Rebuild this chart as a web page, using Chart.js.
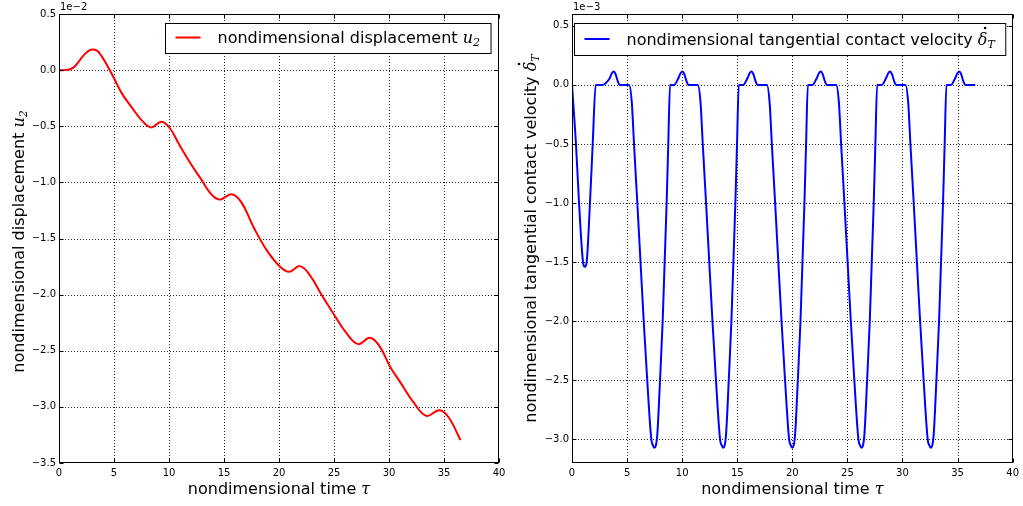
<!DOCTYPE html>
<html><head><meta charset="utf-8">
<script src="https://cdn.jsdelivr.net/npm/chart.js@4/dist/chart.umd.min.js"></script>
<style>
html,body{margin:0;padding:0;background:#fff;}
#wrap{position:relative;width:1023px;height:506px;background:#fff;}
canvas{position:absolute;top:0;}
</style></head><body>
<div id="wrap">
<canvas id="c1" width="512" height="506" style="left:0"></canvas>
<canvas id="c2" width="511" height="506" style="left:512px"></canvas>
</div>
<script>
// ---------- data ----------
const xTickValues = [0, 5, 10, 15, 20, 25, 30, 35, 40];
const u2TickValues = [-3.5, -3.0, -2.5, -2.0, -1.5, -1.0, -0.5, 0.0, 0.5];
const vTickValues = [-3.0, -2.5, -2.0, -1.5, -1.0, -0.5, 0.0, 0.5];

// displacement u2 (units of 1e-2)
const timeU2 = [0, 0.5, 1.0, 1.4, 1.9, 2.36, 2.8, 3.12, 3.5, 3.9, 4.33, 4.97, 5.7, 6.6, 7.5, 8.36, 9.33, 10.1, 10.85, 11.76, 12.97, 13.88, 14.64, 15.7, 16.6, 17.67, 18.88, 20.1, 20.94, 21.9, 22.8, 23.88, 24.94, 26.15, 27.2, 28.27, 29.18, 30.1, 31.0, 32.2, 33.4, 34.57, 35.4, 36.5];
const u2 = [0, 0.0, 0.008, 0.03, 0.09, 0.145, 0.178, 0.184, 0.17, 0.12, 0.05, -0.065, -0.205, -0.33, -0.445, -0.51, -0.46, -0.52, -0.65, -0.80, -0.98, -1.11, -1.152, -1.105, -1.18, -1.396, -1.604, -1.752, -1.797, -1.746, -1.826, -2.004, -2.168, -2.346, -2.441, -2.385, -2.465, -2.643, -2.777, -2.955, -3.08, -3.03, -3.09, -3.296];

// tangential contact velocity (units of 1e-3)
const timeV = [
  0, 0.36, 0.64, 1.0, 1.16, 1.33, 1.63, 1.88, 2.15,
  2.72, 3.38, 3.63, 3.78, 3.96, 4.16, 4.33, 5.18,
  5.43, 5.63, 5.93, 6.22, 6.51, 6.83, 7.2, 7.35, 7.48, 7.62, 7.75, 7.99, 8.23, 8.41, 8.59, 8.74, 8.9,
  9.27, 9.62, 9.87, 10.02, 10.2, 10.4, 10.57, 11.42,
  11.67, 11.87, 12.17, 12.46, 12.75, 13.07, 13.44, 13.59, 13.72, 13.86, 13.99, 14.23, 14.47, 14.65, 14.83, 14.98, 15.14,
  15.54, 15.89, 16.14, 16.29, 16.47, 16.67, 16.84, 17.69,
  17.94, 18.14, 18.44, 18.73, 19.02, 19.34, 19.71, 19.86, 19.99, 20.13, 20.26, 20.5, 20.74, 20.92, 21.1, 21.25, 21.41,
  21.83, 22.18, 22.43, 22.58, 22.76, 22.96, 23.13, 23.98,
  24.23, 24.43, 24.73, 25.02, 25.31, 25.63, 26.0, 26.15, 26.28, 26.42, 26.55, 26.79, 27.03, 27.21, 27.39, 27.54, 27.7,
  28.12, 28.47, 28.72, 28.87, 29.05, 29.25, 29.42, 30.27,
  30.52, 30.72, 31.02, 31.31, 31.6, 31.92, 32.29, 32.44, 32.57, 32.71, 32.84, 33.08, 33.32, 33.5, 33.68, 33.83, 33.99,
  34.4, 34.75, 35.0, 35.15, 35.33, 35.53, 35.7, 36.6
];
const velocity = [
  0, -0.5, -1.0, -1.5, -1.54, -1.5, -1.0, -0.5, 0,
  0, 0.05, 0.1, 0.113, 0.09, 0.03, 0, 0,
  -0.15, -0.5, -1.0, -1.5, -2.0, -2.5, -3.0, -3.05, -3.07, -3.05, -2.95, -2.5, -2.0, -1.5, -1.0, -0.5, 0,
  0, 0.05, 0.1, 0.113, 0.09, 0.03, 0, 0,
  -0.15, -0.5, -1.0, -1.5, -2.0, -2.5, -3.0, -3.05, -3.07, -3.05, -2.95, -2.5, -2.0, -1.5, -1.0, -0.5, 0,
  0, 0.05, 0.1, 0.113, 0.09, 0.03, 0, 0,
  -0.15, -0.5, -1.0, -1.5, -2.0, -2.5, -3.0, -3.05, -3.07, -3.05, -2.95, -2.5, -2.0, -1.5, -1.0, -0.5, 0,
  0, 0.05, 0.1, 0.113, 0.09, 0.03, 0, 0,
  -0.15, -0.5, -1.0, -1.5, -2.0, -2.5, -3.0, -3.05, -3.07, -3.05, -2.95, -2.5, -2.0, -1.5, -1.0, -0.5, 0,
  0, 0.05, 0.1, 0.113, 0.09, 0.03, 0, 0,
  -0.15, -0.5, -1.0, -1.5, -2.0, -2.5, -3.0, -3.05, -3.07, -3.05, -2.95, -2.5, -2.0, -1.5, -1.0, -0.5, 0,
  0, 0.05, 0.1, 0.113, 0.09, 0.03, 0, 0
];

// ---------- helpers ----------
const SANS = '"DejaVu Sans", sans-serif';
const SERIF_I = 'italic 16px "DejaVu Serif", serif';
const SERIF_I_SUB = 'italic 11px "DejaVu Serif", serif';
const fmt1 = v => (v < 0 ? '\u2212' : '') + Math.abs(v).toFixed(1);

function richWidth(ctx, parts) {
  let w = 0;
  for (const p of parts) { if (p.dot) continue; ctx.font = p.font; w += ctx.measureText(p.t).width; }
  return w;
}
function drawRich(ctx, parts, x, y) {
  let cx = x, prevX = x, prevW = 0;
  ctx.textBaseline = 'alphabetic';
  ctx.textAlign = 'left';
  for (const p of parts) {
    if (p.dot) {
      ctx.beginPath();
      ctx.arc(prevX + prevW / 2 + p.dx, y + p.dy, 1.3, 0, Math.PI * 2);
      ctx.fill();
      continue;
    }
    ctx.font = p.font;
    const w = ctx.measureText(p.t).width;
    ctx.fillText(p.t, cx + (p.dx || 0), y + (p.dy || 0));
    prevX = cx; prevW = w;
    cx += w;
  }
}

function decorPlugin(cfg) {
  return {
    id: 'decor_' + cfg.id,
    beforeDatasetsDraw(chart) {
      const {ctx, chartArea: a, scales: {x, y}} = chart;
      ctx.save();
      ctx.strokeStyle = 'rgba(0,0,0,0.85)';
      ctx.lineWidth = 1;
      ctx.setLineDash([1, 2]);
      for (const v of xTickValues) {
        const px = Math.round(x.getPixelForValue(v)) + 0.5;
        if (px < a.left + 1 || px > a.right - 1) continue;
        ctx.beginPath(); ctx.moveTo(px, a.top); ctx.lineTo(px, a.bottom); ctx.stroke();
      }
      for (const v of cfg.yTicks) {
        const py = Math.round(y.getPixelForValue(v)) + 0.5;
        if (py < a.top + 1 || py > a.bottom - 1) continue;
        ctx.beginPath(); ctx.moveTo(a.left, py); ctx.lineTo(a.right, py); ctx.stroke();
      }
      ctx.restore();
    },
    afterDatasetsDraw(chart) {
      const {ctx, chartArea: a, scales: {x, y}} = chart;
      ctx.save();
      // frame
      ctx.strokeStyle = '#000';
      ctx.lineWidth = 1;
      ctx.setLineDash([]);
      const L = Math.round(a.left) + 0.5, R = Math.round(a.right) - 0.5;
      const T = Math.round(a.top) + 0.5, B = Math.round(a.bottom) - 0.5;
      ctx.strokeRect(L, T, R - L, B - T);
      // inward ticks on all sides
      const tl = 4;
      ctx.beginPath();
      for (const v of xTickValues) {
        const px = Math.round(x.getPixelForValue(v)) + 0.5;
        ctx.moveTo(px, B); ctx.lineTo(px, B - tl);
        ctx.moveTo(px, T); ctx.lineTo(px, T + tl);
      }
      for (const v of cfg.yTicks) {
        const py = Math.round(y.getPixelForValue(v)) + 0.5;
        ctx.moveTo(L, py); ctx.lineTo(L + tl, py);
        ctx.moveTo(R, py); ctx.lineTo(R - tl, py);
      }
      ctx.stroke();

      // offset text
      ctx.fillStyle = '#000';
      ctx.font = '10px ' + SANS;
      ctx.textAlign = 'left';
      ctx.textBaseline = 'alphabetic';
      ctx.fillText(cfg.offsetText, a.left + 1, a.top - 4);

      // legend
      const font = '16px ' + SANS;
      const parts = [{t: cfg.legendText, font}].concat(cfg.legendMath);
      const tw = richWidth(ctx, parts);
      const boxW = 52 + tw + 11;
      const boxH = cfg.legendH;
      let bx = cfg.legendAlign === 'right' ? a.right - 8 - boxW : a.left + 2;
      const by = a.top + 9;
      bx = Math.round(bx) + 0.5;
      ctx.fillStyle = '#fff';
      ctx.fillRect(bx, by + 0.5, boxW, boxH);
      ctx.strokeStyle = '#000';
      ctx.lineWidth = 1;
      ctx.strokeRect(bx, by + 0.5, boxW, boxH);
      ctx.strokeStyle = cfg.color;
      ctx.lineWidth = 2;
      ctx.beginPath();
      ctx.moveTo(bx + 10, by + cfg.legendLineY); ctx.lineTo(bx + 35, by + cfg.legendLineY);
      ctx.stroke();
      ctx.fillStyle = '#000';
      drawRich(ctx, parts, bx + 52, by + cfg.legendBase);

      // x title
      const xparts = [{t: 'nondimensional time ', font}, {t: '\u03C4', font: SERIF_I}];
      const xw = richWidth(ctx, xparts);
      drawRich(ctx, xparts, (a.left + a.right) / 2 - xw / 2, 494);

      // y title (rotated)
      const yparts = [{t: cfg.yTitle, font}].concat(cfg.legendMath);
      const yw = richWidth(ctx, yparts);
      ctx.save();
      ctx.translate(cfg.yTitleX, (a.top + a.bottom) / 2 + cfg.yTitleShift);
      ctx.rotate(-Math.PI / 2);
      drawRich(ctx, yparts, -yw / 2, 0);
      ctx.restore();
      ctx.restore();
    }
  };
}

function makeChart(cfg) {
  const pts = cfg.xs.map((t, i) => ({x: t, y: cfg.ys[i]}));
  return new Chart(document.getElementById(cfg.id), {
    type: 'line',
    data: {datasets: [{
      data: pts, borderColor: cfg.color, borderWidth: 2, pointRadius: 0,
      fill: false, cubicInterpolationMode: cfg.interp, tension: cfg.tension, borderJoinStyle: 'round'
    }]},
    options: {
      responsive: false, animation: false, events: [],
      layout: {padding: {top: 14, right: cfg.padRight, left: 0, bottom: 0}},
      plugins: {legend: {display: false}, tooltip: {enabled: false}, title: {display: false}},
      scales: {
        x: {
          type: 'linear', min: 0, max: 40,
          grid: {display: false, drawTicks: false}, border: {display: false},
          afterBuildTicks: s => { s.ticks = xTickValues.map(v => ({value: v})); },
          afterFit: s => { s.height = 43; },
          ticks: {color: '#000', font: {family: SANS, size: 10}, padding: 4,
                  maxRotation: 0, autoSkip: false, callback: v => String(v)}
        },
        y: {
          type: 'linear', min: cfg.ymin, max: cfg.ymax,
          grid: {display: false, drawTicks: false}, border: {display: false},
          afterBuildTicks: s => { s.ticks = cfg.yTicks.map(v => ({value: v})); },
          afterFit: s => { s.width = cfg.yAxisW; },
          ticks: {color: '#000', font: {family: SANS, size: 10}, padding: 3,
                  autoSkip: false, callback: v => fmt1(v)}
        }
      }
    },
    plugins: [decorPlugin(cfg)]
  });
}

makeChart({
  id: 'c1', xs: timeU2, ys: u2, color: '#ff0000', interp: 'default', tension: 0.4,
  ymin: -3.5, ymax: 0.5, yTicks: u2TickValues, yAxisW: 59, padRight: 13,
  offsetText: '1e\u22122',
  legendText: 'nondimensional displacement ',
  legendMath: [{t: 'u', font: SERIF_I}, {t: '2', font: SERIF_I_SUB, dy: 3}],
  legendAlign: 'right', legendH: 30, legendLineY: 14.5, legendBase: 20,
  yTitle: 'nondimensional displacement ', yTitleX: 24, yTitleShift: 3
});

makeChart({
  id: 'c2', xs: timeV, ys: velocity, color: '#0000ff', interp: 'monotone', tension: 0,
  ymin: -3.2, ymax: 0.6, yTicks: vTickValues, yAxisW: 60, padRight: 10,
  offsetText: '1e\u22123',
  legendText: 'nondimensional tangential contact velocity ',
  legendMath: [{t: '\u03B4', font: SERIF_I}, {dot: true, dx: 2.5, dy: -17},
               {t: 'T', font: SERIF_I_SUB, dy: 3}],
  legendAlign: 'left', legendH: 32, legendLineY: 16, legendBase: 22,
  yTitle: 'nondimensional tangential contact velocity ', yTitleX: 24, yTitleShift: 0
});
</script>
</body></html>
